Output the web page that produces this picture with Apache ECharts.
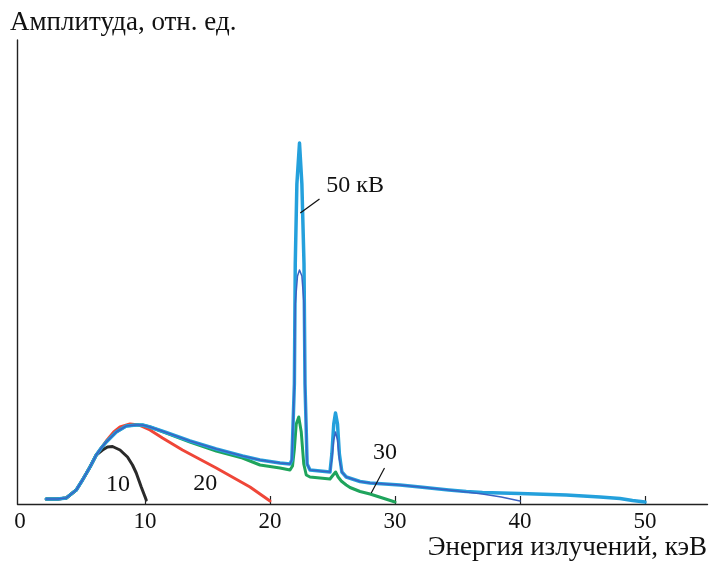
<!DOCTYPE html>
<html>
<head>
<meta charset="utf-8">
<script src="https://cdn.jsdelivr.net/npm/echarts@6/dist/echarts.min.js"></script>
<style>
  html, body { margin: 0; padding: 0; background: #fff; }
  #chart { width: 710px; height: 563px; }
</style>
</head>
<body>
<div id="chart"></div>
<script>
// ---- Data (energy in keV, amplitude in arbitrary relative units) ----
var xTicks = [0, 10, 20, 30, 40, 50];
var xMinorTicks = [10, 20, 30, 40, 50];

var e10 = [2.1, 3.0, 3.7, 4.5, 5.0, 5.6, 6.1, 6.6, 7.0, 7.4, 8.0, 8.6, 9.0, 9.3, 9.7, 10.1];
var a10 = [5, 5, 6, 14, 24, 37, 49, 54, 57, 57.5, 54, 47, 39, 31, 17, 4];

var e20 = [2.1, 3.0, 3.7, 4.5, 5.0, 5.6, 6.1, 6.5, 6.9, 7.5, 8.0, 8.8, 9.5, 10.4, 11.4, 13.0, 15.7, 18.4, 20.0];
var a20 = [5, 5, 6, 14, 24, 37, 49, 56, 63, 72, 77, 80, 79, 74, 66, 54, 36, 17, 3];

var e30 = [2.1, 3.0, 3.7, 4.5, 5.0, 5.6, 6.1, 6.5, 6.9, 7.7, 8.5, 9.3, 9.8, 10.4, 11.7, 13.6, 15.7, 17.8, 19.2, 20.8, 21.6,
           21.8, 21.95, 22.1, 22.3, 22.5, 22.7, 22.9, 23.2, 24.0, 24.8, 25.05, 25.25, 25.45, 25.7, 26.1, 26.4, 27.2, 28.0, 29.0, 30.0];
var a30 = [5, 5, 6, 14, 24, 37, 49, 56, 62, 72, 78, 79, 79, 77, 71, 62, 53, 46, 39, 36, 34,
           38, 55, 80, 87, 72, 40, 29, 27, 26, 25, 29, 32, 27, 23, 19, 16.5, 12.5, 10, 6, 2];

var e40 = [2.1, 3.0, 3.7, 4.5, 5.0, 5.6, 6.1, 6.5, 6.9, 7.7, 8.5, 9.3, 9.8, 10.4, 11.7, 13.6, 15.7, 17.8, 19.2, 20.8, 21.6,
           21.75, 21.95, 22.02, 22.2, 22.36, 22.55, 22.72, 22.8, 22.97, 23.2, 24.0, 24.8, 24.95, 25.1, 25.24, 25.4, 25.55, 25.75,
           26.1, 27.2, 28.0, 30.4, 32.0, 34.3, 35.7, 37.0, 38.5, 40.0];
var a40 = [5, 5, 6, 14, 24, 37, 49, 56, 62, 72, 78, 79, 79, 77, 71.5, 63, 55, 48, 44, 41, 40,
           44, 120, 200, 228, 234, 228, 200, 120, 40, 34, 33, 32, 45, 64, 72, 64, 45, 32,
           27, 22.5, 21, 19, 17, 14, 12, 10, 7, 3];

var e50 = [2.1, 3.0, 3.7, 4.5, 5.0, 5.6, 6.1, 6.5, 6.9, 7.7, 8.5, 9.3, 9.8, 10.4, 11.7, 13.6, 15.7, 17.8, 19.2, 20.8, 21.6,
           21.75, 21.95, 22.02, 22.15, 22.36, 22.55, 22.72, 22.8, 22.97, 23.2, 24.0, 24.8, 24.95, 25.1, 25.24, 25.4, 25.55, 25.75,
           26.1, 27.2, 28.0, 30.4, 32.0, 34.3, 35.7, 37.0, 40.0, 43.7, 46.4, 48.0, 49.0, 50.0];
var a50 = [5, 5, 6, 14, 24, 37, 49, 56, 62, 72, 78, 79, 79, 77, 71.5, 63, 55, 48, 44, 41, 40,
           44, 120, 240, 320, 361, 320, 240, 120, 40, 34, 33, 32, 50, 80, 91, 80, 50, 32,
           27, 22.5, 21, 19, 17, 14, 12.5, 11.5, 10.5, 9, 7, 5.5, 3.5, 2];

// annotation texts and their anchor positions (data coordinates)
var noteText = ['10', '20', '30', '50 кВ'];
var noteE = [7.84, 14.82, 29.2, 24.5];
var noteA = [19.5, 20, 51.5, 318];
var noteAlign = ['center', 'center', 'center', 'left'];

// leader lines (data coordinates)
var lead50E = [22.42, 23.96];
var lead50A = [291, 305];
var lead30E = [28.1, 29.16];
var lead30A = [11, 36];

function zip(xs, ys) { return xs.map(function (x, i) { return [x, ys[i]]; }); }

var FONT = '"Liberation Serif", "DejaVu Serif", serif';

function curve(name, xs, ys, color, width) {
  return {
    name: name, type: 'line', data: zip(xs, ys), showSymbol: false, symbol: 'none',
    lineStyle: { color: color, width: width, cap: 'round', join: 'round' },
    itemStyle: { color: color }, silent: true, z: 2
  };
}
function leader(xs, ys) {
  return {
    type: 'line', data: zip(xs, ys), symbol: 'none', silent: true, z: 5,
    lineStyle: { color: '#111', width: 1.2 }
  };
}

var chart = echarts.init(document.getElementById('chart'), null, { renderer: 'canvas' });
chart.setOption({
  animation: false,
  backgroundColor: '#fff',
  title: [
    { text: 'Амплитуда, отн. ед.', left: 10, top: 9, padding: 0,
      textStyle: { fontFamily: FONT, fontSize: 27, fontWeight: 'normal', color: '#111' } },
    { text: 'Энергия излучений, кэВ', right: 3, top: 534, padding: 0,
      textStyle: { fontFamily: FONT, fontSize: 27, fontWeight: 'normal', color: '#111' } }
  ],
  grid: { left: 17.5, right: 2.5, top: 40, bottom: 59, containLabel: false },
  xAxis: {
    type: 'value', min: -0.2, max: 55,
    axisLine: { show: true, onZero: false, lineStyle: { color: '#222', width: 1.4 } },
    axisTick: { show: true, inside: true, length: 8, customValues: xMinorTicks, lineStyle: { color: '#222', width: 1.2 } },
    axisLabel: { show: true, customValues: xTicks, margin: 6, fontFamily: FONT, fontSize: 23, color: '#111' },
    splitLine: { show: false }
  },
  yAxis: {
    type: 'value', min: 0, max: 464,
    axisLine: { show: true, onZero: false, lineStyle: { color: '#222', width: 1.4 } },
    axisTick: { show: false }, axisLabel: { show: false }, splitLine: { show: false }
  },
  series: [
    curve('10 кВ', e10, a10, '#2a2a2a', 3),
    curve('20 кВ', e20, a20, '#ef4638', 3),
    curve('30 кВ', e30, a30, '#1fa45c', 3),
    curve('50 кВ', e50, a50, '#24a0dc', 3.5),
    curve('40 кВ', e40, a40, '#3a62c2', 1.5),
    leader(lead50E, lead50A),
    leader(lead30E, lead30A),
    {
      type: 'scatter', symbolSize: 0, silent: true, z: 6,
      itemStyle: { opacity: 1 },
      data: noteText.map(function (t, i) {
        return {
          value: [noteE[i], noteA[i]],
          label: { show: true, formatter: t, position: 'inside', align: noteAlign[i], verticalAlign: 'middle',
                   fontFamily: FONT, fontSize: 24, color: '#111', opacity: 1 }
        };
      })
    }
  ]
});
</script>
</body>
</html>
